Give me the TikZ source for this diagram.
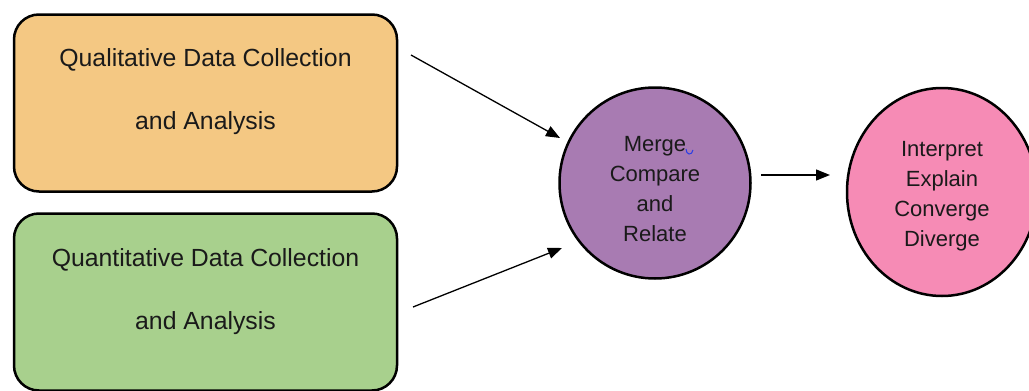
\documentclass[tikz,border=0pt]{standalone}
\usepackage{fontspec}
\setmainfont{Liberation Sans}
\usetikzlibrary{arrows.meta,shapes.geometric}
\definecolor{qualfill}{RGB}{244,200,131}
\definecolor{quantfill}{RGB}{168,208,141}
\definecolor{mergefill}{RGB}{168,123,178}
\definecolor{interpfill}{RGB}{246,139,181}
\definecolor{txt}{RGB}{26,26,26}
\definecolor{markblue}{RGB}{40,60,230}
\tikzset{
  databox/.style={draw=black, line width=2.5pt, rounded corners=25pt,
    minimum width=383pt, minimum height=177pt, inner sep=0pt},
  boxtext/.style={text=txt, align=center, inner sep=0pt,
    font=\fontsize{24.8}{63}\selectfont},
  roundnode/.style={draw=black, line width=2.5pt, inner sep=0pt},
  roundtext/.style={text=txt, align=center, inner sep=0pt,
    font=\fontsize{22}{30}\selectfont},
  flowarrow/.style={line width=1.3pt, -{Triangle[length=14pt,width=11pt]}}
}
\begin{document}
\begin{tikzpicture}[x=1pt,y=-1pt]
\useasboundingbox (0,0) rectangle (1029,391);
\node[databox, fill=qualfill] (qual) at (205.5,103) {};
\node[boxtext] (qualtext) at (205.5,92) {Qualitative Data Collection\\and Analysis};
\node[databox, fill=quantfill] (quant) at (205.5,302) {};
\node[boxtext] (quanttext) at (205.5,292) {Quantitative Data Collection\\and Analysis};
\node[roundnode, circle, fill=mergefill, minimum size=191pt] (merge) at (655,183) {};
\node[roundtext] (mergetext) at (655,189) {Merge\\Compare\\and\\Relate};
\node[roundnode, ellipse, fill=interpfill, minimum width=190pt, minimum height=208pt] (interp) at (942,192) {};
\node[roundtext] (interptext) at (942,196) {Interpret\\Explain\\Converge\\Diverge};
\draw[markblue, line width=1pt] (686,149) .. controls (686,155) and (692,156) .. (693,150);
\coordinate (a1s) at (411,55);
\coordinate (a1e) at (560,138);
\coordinate (a2s) at (413,307);
\coordinate (a2e) at (562,248);
\coordinate (a3s) at (761,175);
\coordinate (a3e) at (830,175);
\draw[flowarrow] (a1s) -- (a1e);
\draw[flowarrow] (a2s) -- (a2e);
\draw[flowarrow] (a3s) -- (a3e);
\end{tikzpicture}
\end{document}
